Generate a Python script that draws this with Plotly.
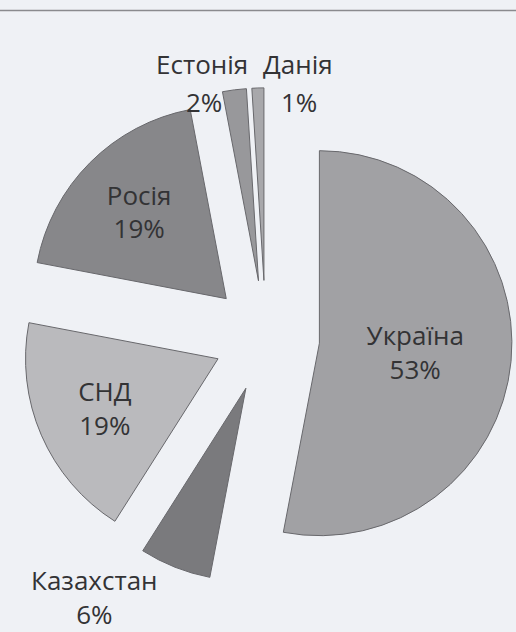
import plotly.graph_objects as go

labels = ["Україна", "Казахстан", "СНД", "Росія", "Естонія", "Данія"]
values = [53, 6, 19, 19, 2, 1]
colors = ["#a1a1a4", "#7a7a7d", "#bababd", "#87878a", "#98989b", "#a8a8ab"]
pulls = [0.28, 0.28, 0.27, 0.29, 0.30, 0.30]
positions = ["inside", "outside", "inside", "inside", "none", "none"]

font_family = "'Open Sans', Lato, sans-serif"
text_color = "#333335"
font_size = 26

fig = go.Figure()
fig.add_trace(go.Pie(
    labels=labels,
    values=values,
    sort=False,
    direction="clockwise",
    rotation=0,
    pull=pulls,
    marker=dict(colors=colors, line=dict(color="#68686c", width=1)),
    texttemplate="%{label}<br>%{value}%",
    textposition=positions,
    insidetextorientation="horizontal",
    textfont=dict(family=font_family, size=font_size, color=text_color),
    domain=dict(x=[0.03, 1.0], y=[0.045, 0.885]),
    showlegend=False,
    hoverinfo="label+percent",
))

# labels for the two thin slices, side by side above the pie (as in the source)
small = [4, 5]
name_x = [202 / 516, 298 / 516]
pct_x = [204 / 516, 299 / 516]
annotations = []
for i, nx, px in zip(small, name_x, pct_x):
    annotations.append(dict(text=labels[i], x=nx, y=1 - 44 / 632, xref="paper", yref="paper",
                            showarrow=False, font=dict(family=font_family, size=font_size, color=text_color)))
    annotations.append(dict(text=f"{values[i]}%", x=px, y=1 - 82 / 632, xref="paper", yref="paper",
                            showarrow=False, font=dict(family=font_family, size=font_size, color=text_color)))

fig.update_layout(
    width=516,
    height=632,
    margin=dict(l=0, r=0, t=0, b=0, autoexpand=False),
    paper_bgcolor="#eff1f5",
    plot_bgcolor="#eff1f5",
    annotations=annotations,
    shapes=[dict(type="line", xref="paper", yref="paper", x0=0, x1=1,
                 y0=1 - 10.5 / 632, y1=1 - 10.5 / 632,
                 line=dict(color="#8a8a8e", width=1.5))],
)

fig.write_html("out.html", config={"displayModeBar": False},
               post_script="document.body.style.margin='0';")
